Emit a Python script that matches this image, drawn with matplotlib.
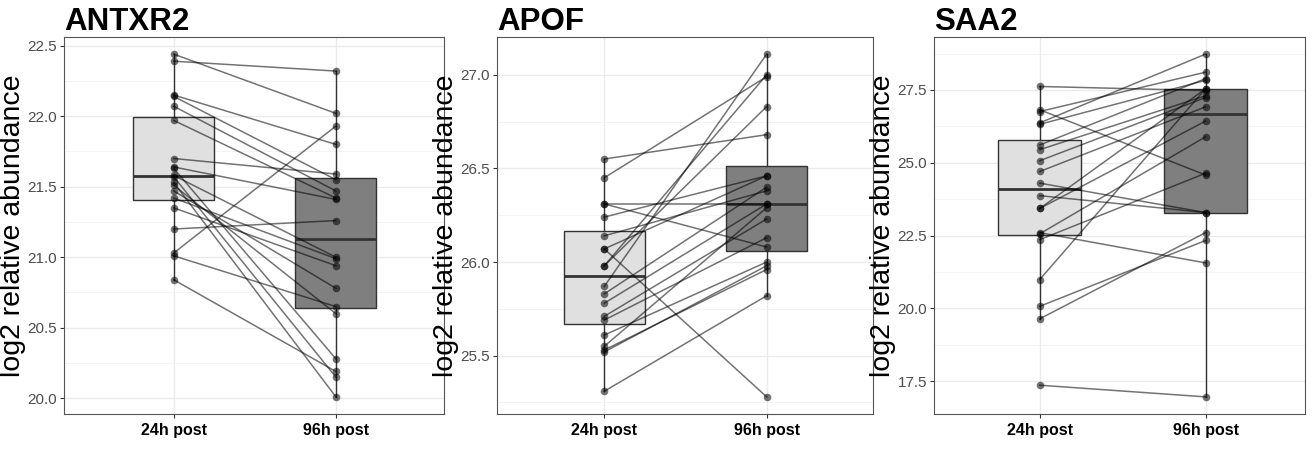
import matplotlib
matplotlib.use("Agg")
import matplotlib.pyplot as plt
import matplotlib.ticker as ticker

plt.rcParams['font.family'] = ['Liberation Sans', 'DejaVu Sans']

groups = ["24h post", "96h post"]
titles = ["ANTXR2", "APOF", "SAA2"]

# paired values, same subject on the same index
antxr2_24h = [22.44, 22.39, 22.15, 22.14, 22.07, 21.97, 21.70, 21.64, 21.63, 21.58,
              21.57, 21.53, 21.51, 21.47, 21.42, 21.35, 21.20, 21.03, 21.01, 20.84]
antxr2_96h = [22.02, 22.32, 21.80, 21.55, 21.47, 21.42, 21.59, 21.41, 20.28, 21.00,
              20.15, 20.01, 20.60, 20.78, 20.99, 20.94, 21.26, 21.93, 20.65, 20.19]

apof_24h = [26.55, 26.45, 26.31, 26.31, 26.24, 26.14, 26.07, 26.07, 25.98, 25.98,
            25.87, 25.83, 25.78, 25.71, 25.69, 25.61, 25.55, 25.53, 25.52, 25.31]
apof_96h = [26.68, 26.99, 26.31, 26.08, 26.46, 26.38, 25.28, 26.46, 27.00, 26.83,
            27.11, 26.40, 26.31, 26.23, 26.13, 26.00, 26.29, 25.96, 25.98, 25.82]

saa2_24h = [27.62, 26.82, 26.76, 26.37, 26.32, 25.61, 25.45, 25.07, 24.70, 24.30,
            23.87, 23.43, 23.43, 22.60, 22.56, 22.36, 20.99, 20.07, 19.64, 17.36]
saa2_96h = [27.48, 24.58, 28.11, 28.73, 27.83, 27.89, 27.30, 27.24, 26.92, 23.29,
            23.29, 27.54, 26.43, 21.56, 25.89, 24.64, 27.54, 22.33, 22.60, 16.96]

yticks = [[20.0, 20.5, 21.0, 21.5, 22.0, 22.5],
          [25.5, 26.0, 26.5, 27.0],
          [17.5, 20.0, 22.5, 25.0, 27.5]]

# panel rectangles in pixels: left, right, top, bottom, and x limits
W, H = 1312, 449
panels = [(64, 444, 37, 414), (497, 873, 37, 414), (934, 1305, 37, 414)]
xlims = [(0.323, 2.667), (0.339, 2.655), (0.362, 2.6)]


def draw_panel(ax, title, before, after, ticks, xlim):
    step = ticks[1] - ticks[0]
    ax.set_axisbelow(True)
    ax.yaxis.set_major_locator(ticker.FixedLocator(ticks))
    ax.yaxis.set_minor_locator(ticker.MultipleLocator(step / 2))
    ax.yaxis.set_major_formatter(ticker.FormatStrFormatter('%.1f'))
    ax.grid(True, which='major', color='#ebebeb', lw=1.0)
    ax.grid(True, which='minor', axis='y', color='#f2f2f2', lw=0.6)
    ax.tick_params(which='minor', length=0)

    bp = ax.boxplot([before, after], positions=[1, 2], widths=0.5,
                    patch_artist=True, showfliers=False, showcaps=False,
                    medianprops=dict(color='#333333', lw=2),
                    whiskerprops=dict(color='#333333', lw=1),
                    boxprops=dict(edgecolor='#333333', lw=1))
    for patch, fc in zip(bp['boxes'], ['#e0e0e0', '#7f7f7f']):
        patch.set_facecolor(fc)

    for a, b in zip(before, after):
        ax.plot([1, 2], [a, b], color='black', alpha=0.55, lw=1.1, zorder=3)
    ax.scatter([1] * len(before), before, s=30, color='black', alpha=0.55,
               lw=0, zorder=4)
    ax.scatter([2] * len(after), after, s=30, color='black', alpha=0.55,
               lw=0, zorder=4)

    ax.set_xlim(*xlim)
    ax.set_xticks([1, 2])
    ax.set_xticklabels(groups, fontsize=11.5, fontweight='bold', color='black')
    ax.tick_params(axis='y', labelsize=11, labelcolor='#4d4d4d', color='#333333',
                   length=3, pad=2)
    ax.tick_params(axis='x', color='#333333', length=3)
    ax.set_ylabel("log2 relative abundance", fontsize=20.5, labelpad=1)
    ax.set_title(title, loc='left', fontsize=22.5, fontweight='bold', pad=5)
    for sp in ax.spines.values():
        sp.set_color('#555555')
        sp.set_linewidth(0.8)


def main():
    fig = plt.figure(figsize=(W / 100, H / 100), dpi=100)
    data = [(antxr2_24h, antxr2_96h), (apof_24h, apof_96h), (saa2_24h, saa2_96h)]
    for (l, r, t, b), title, (before, after), ticks, xlim in zip(
            panels, titles, data, yticks, xlims):
        ax = fig.add_axes([l / W, 1 - b / H, (r - l) / W, (b - t) / H])
        draw_panel(ax, title, before, after, ticks, xlim)
    fig.savefig("out.png", dpi=100)


if __name__ == "__main__":
    main()
